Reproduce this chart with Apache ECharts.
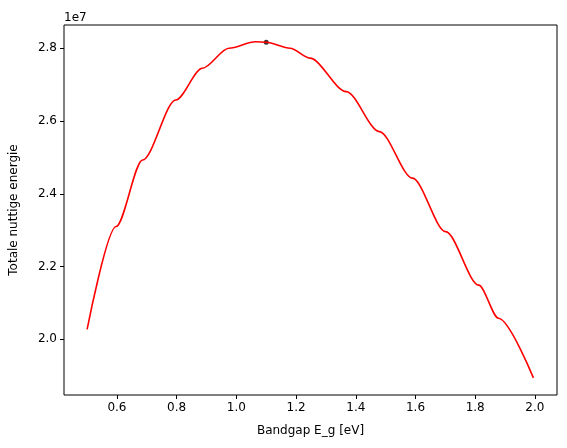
<!DOCTYPE html>
<html><head><meta charset="utf-8">
<script src="https://cdn.jsdelivr.net/npm/echarts@6/dist/echarts.min.js"></script>
<style>body{margin:0}#c{width:567px;height:448px}</style>
</head><body><div id="c"></div>
<script>
// Bandgap (eV) en totale nuttige energie (x 1e7)
var bandgap = [0.5, 0.597, 0.686, 0.797, 0.886, 0.975, 1.064, 1.1, 1.18, 1.246, 1.368, 1.479, 1.59, 1.701, 1.812, 1.878, 1.995];
var energie = [2.0275, 2.31, 2.493, 2.658, 2.745, 2.80, 2.818, 2.8165, 2.80, 2.773, 2.681, 2.571, 2.443, 2.296, 2.149, 2.058, 1.894];
var maxPunt = [1.1, 2.8165];
var xTicks = [0.6, 0.8, 1.0, 1.2, 1.4, 1.6, 1.8, 2.0];
var yTicks = [2.0, 2.2, 2.4, 2.6, 2.8];

var chart = echarts.init(document.getElementById('c'));
var font = 'DejaVu Sans';
var lijn = bandgap.map(function(x, i) { return [x, energie[i]]; });

chart.setOption({
  animation: false,
  title: { text: '1e7', left: 59, top: 7, textStyle: { fontFamily: font, fontSize: 12, fontWeight: 'normal', color: '#000' } },
  grid: { left: 61, right: 10, top: 25, bottom: 53, show: true, borderColor: '#000', borderWidth: 1 },
  xAxis: {
    type: 'value', min: 0.4226, max: 2.074,
    name: 'Bandgap E_g [eV]', nameLocation: 'middle', nameGap: 30,
    nameTextStyle: { fontFamily: font, fontSize: 12, color: '#000' },
    axisLine: { show: false }, splitLine: { show: false },
    axisTick: { show: true, length: 4, lineStyle: { color: '#000' }, customValues: xTicks },
    axisLabel: { fontFamily: font, fontSize: 12, color: '#000', margin: 7, customValues: xTicks,
      formatter: function(v) { return v.toFixed(1); } }
  },
  yAxis: {
    type: 'value', min: 1.847, max: 2.864,
    name: 'Totale nuttige energie', nameLocation: 'middle', nameGap: 44,
    nameTextStyle: { fontFamily: font, fontSize: 12, color: '#000' },
    axisLine: { show: false }, splitLine: { show: false },
    axisTick: { show: true, length: 4, lineStyle: { color: '#000' }, customValues: yTicks },
    axisLabel: { fontFamily: font, fontSize: 12, color: '#000', margin: 7, customValues: yTicks,
      formatter: function(v) { return v.toFixed(1); } }
  },
  series: [
    { type: 'line', data: lijn, smooth: 0.3, smoothMonotone: 'x', showSymbol: false, lineStyle: { color: '#ff0000', width: 1.6 } },
    { type: 'scatter', data: [maxPunt], symbolSize: 5, itemStyle: { color: '#000' } }
  ]
});
</script>
</body></html>
